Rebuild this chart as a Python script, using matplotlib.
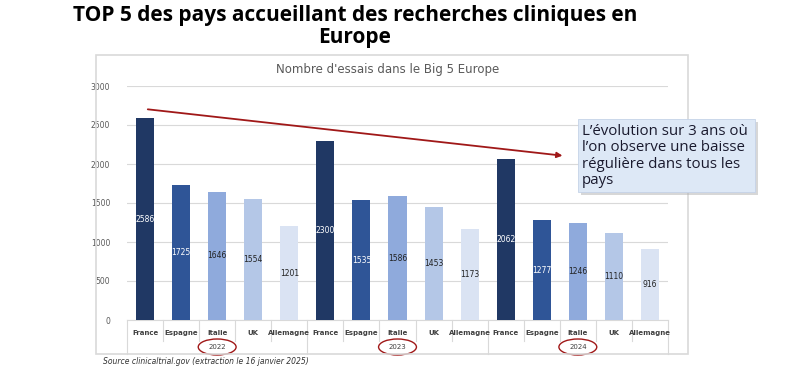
import numpy as np
import matplotlib.pyplot as plt
from matplotlib.patches import Rectangle, Ellipse, FancyBboxPatch
import matplotlib.transforms as mtransforms

# Data
years = ['2022', '2023', '2024']
countries = ['France', 'Espagne', 'Italie', 'UK', 'Allemagne']
trials_2022 = [2586, 1725, 1646, 1554, 1201]
trials_2023 = [2300, 1535, 1586, 1453, 1173]
trials_2024 = [2062, 1277, 1246, 1110, 916]

country_colors = ['#203864', '#2f5597', '#8faadc', '#b4c7e7', '#dae3f3']
label_colors = ['white', 'white', '#222222', '#222222', '#222222']

W, H = 795, 372
fig = plt.figure(figsize=(W / 100, H / 100), dpi=100)

def fx(px):
    return px / W

def fy(py):
    return 1 - py / H

# outer frame of the chart
fig.patches.append(Rectangle((fx(96), fy(354)), fx(688) - fx(96), fy(55) - fy(354),
                             transform=fig.transFigure, fill=False,
                             edgecolor='#d9d9d9', linewidth=1.2))

fig.text(fx(355), fy(16), 'TOP 5 des pays accueillant des recherches cliniques en',
         ha='center', va='center', fontsize=15, fontweight='bold', family='Open Sans')
fig.text(fx(355), fy(38), 'Europe', ha='center', va='center', fontsize=15,
         fontweight='bold', family='Open Sans')
fig.text(fx(388), fy(69), "Nombre d'essais dans le Big 5 Europe", ha='center', va='center',
         fontsize=8.5, color='#595959')
fig.text(fx(103), fy(362), 'Source clinicaltrial.gov (extraction le 16 janvier 2025)',
         ha='left', va='center', fontsize=5.5, style='italic', color='#333333')

ax = fig.add_axes([fx(127), fy(320), fx(668) - fx(127), fy(86) - fy(320)])

all_values = trials_2022 + trials_2023 + trials_2024
n = len(countries)
x = np.arange(len(all_values))
colors = country_colors * len(years)
lcolors = label_colors * len(years)

ax.bar(x, all_values, width=0.5, color=colors, zorder=3)
for xi, v, c in zip(x, all_values, lcolors):
    ax.text(xi, v / 2, str(v), ha='center', va='center', fontsize=5.5, color=c, zorder=4)

ax.set_xlim(-0.5, len(all_values) - 0.5)
ax.set_ylim(0, 3000)
ax.set_yticks(np.arange(0, 3001, 500))
ax.tick_params(axis='y', labelsize=5.5, labelcolor='#595959', length=0, pad=12)
ax.set_xticks([])
ax.grid(axis='y', color='#d9d9d9', linewidth=0.8, zorder=0)
for s in ['top', 'right', 'left']:
    ax.spines[s].set_visible(False)
ax.spines['bottom'].set_color('#d9d9d9')

# category labels and separators below the axis
trans = mtransforms.blended_transform_factory(ax.transData, fig.transFigure)
for xi in x:
    ax.text(xi, fy(333), countries[xi % n], transform=trans, ha='center', va='center',
            fontsize=5, fontweight='semibold', color='#404040')
for b in np.arange(-0.5, len(all_values), 1.0):
    group_edge = (b + 0.5) % n == 0
    bottom = fy(354) if group_edge else fy(341)
    ax.plot([b, b], [fy(320), bottom], transform=trans, color='#d9d9d9',
            linewidth=0.8, clip_on=False)
for i, yr in enumerate(years):
    xc = i * n + 2
    ax.text(xc, fy(347), yr, transform=trans, ha='center', va='center',
            fontsize=5, color='#404040')
    ax.add_patch(Ellipse((xc, fy(347)), 1.05, 16 / H, transform=trans, fill=False,
                         edgecolor='#a01818', linewidth=1.0, clip_on=False))

# trend arrow
ax.annotate('', xy=(11.65, 2103), xytext=(0.0, 2705),
            arrowprops=dict(arrowstyle='-|>', color='#a01818', linewidth=1.3,
                            mutation_scale=8), annotation_clip=False, zorder=5)

# callout box with shadow
shadow = FancyBboxPatch((fx(581), fy(195)), fx(755) - fx(578), fy(120) - fy(193),
                        boxstyle='square,pad=0', transform=fig.transFigure,
                        facecolor='#b0b0b0', edgecolor='none', alpha=0.5)
box = FancyBboxPatch((fx(578), fy(192)), fx(755) - fx(578), fy(120) - fy(193),
                     boxstyle='square,pad=0', transform=fig.transFigure,
                     facecolor='#dde8f6', edgecolor='#c5d3e8', linewidth=0.6)
fig.patches.append(shadow)
fig.patches.append(box)
fig.text(fx(582), fy(156), "L\u2019évolution sur 3 ans où\nl\u2019on observe une baisse\nrégulière dans tous les\npays",
         ha='left', va='center', fontsize=10.8, color='#1a1a2e', family='Open Sans',
         linespacing=1.1)

fig.savefig('out.png', dpi=100)
